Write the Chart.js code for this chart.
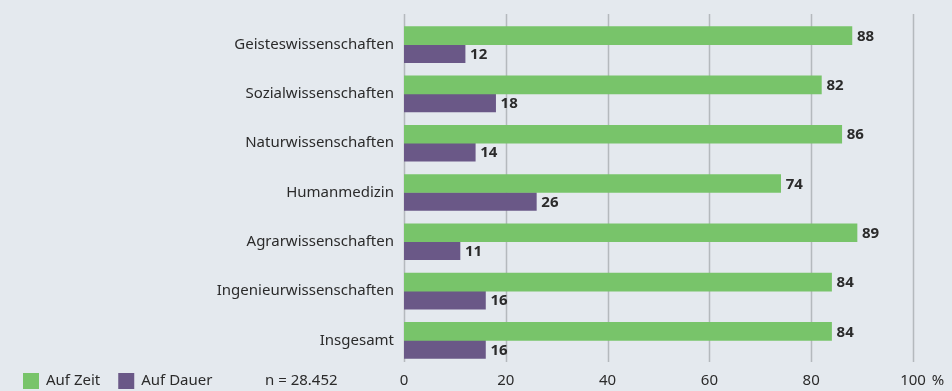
<!DOCTYPE html>
<html lang="de">
<head>
<meta charset="utf-8">
<title>Befristung nach Fächergruppen</title>
<script src="https://cdn.jsdelivr.net/npm/chart.js@4.4.1/dist/chart.umd.min.js"></script>
<style>
  html, body { margin: 0; padding: 0; background: #e4e9ee; }
  #wrap { width: 952px; height: 391px; position: relative; }
</style>
</head>
<body>
<div id="wrap"><canvas id="grafik"></canvas></div>
<script>
const faechergruppen = [
  "Geisteswissenschaften",
  "Sozialwissenschaften",
  "Naturwissenschaften",
  "Humanmedizin",
  "Agrarwissenschaften",
  "Ingenieurwissenschaften",
  "Insgesamt"
];
const aufZeit = [88, 82, 86, 74, 89, 84, 84];
const aufDauer = [12, 18, 14, 26, 11, 16, 16];
const achsenTicks = [0, 20, 40, 60, 80, 100];
const stichprobe = "n = 28.452";

const farbeZeit = "#78c46a";
const farbeDauer = "#6a5887";
const textFarbe = "#2b2b2b";
const schrift = "'Noto Sans', sans-serif";

// Gitterlinien, Werte an den Balken, Legende und Prozentzeichen
const zusatzPlugin = {
  id: "zusatz",
  beforeDatasetsDraw(chart) {
    const ctx = chart.ctx;
    const x = chart.scales.x;
    ctx.save();
    ctx.strokeStyle = "#b4b9bd";
    ctx.lineWidth = 1.5;
    achsenTicks.forEach(t => {
      const px = Math.round(x.getPixelForValue(t)) + 0.5;
      ctx.beginPath();
      ctx.moveTo(px, 14);
      ctx.lineTo(px, 362);
      ctx.stroke();
    });
    ctx.restore();
  },
  afterDatasetsDraw(chart) {
    const ctx = chart.ctx;
    ctx.save();
    ctx.font = "bold 15px " + schrift;
    ctx.fillStyle = textFarbe;
    ctx.textBaseline = "middle";
    ctx.textAlign = "left";
    chart.data.datasets.forEach((ds, i) => {
      chart.getDatasetMeta(i).data.forEach((bar, j) => {
        ctx.fillText(String(ds.data[j]), bar.x + 5, bar.y + 1);
      });
    });

    // Legende unten links
    ctx.font = "15px " + schrift;
    const legY = 381;
    let lx = 23;
    chart.data.datasets.forEach(ds => {
      ctx.fillStyle = ds.backgroundColor;
      ctx.fillRect(lx, legY - 8, 16, 16);
      ctx.fillStyle = textFarbe;
      ctx.fillText(ds.label, lx + 23, legY);
      lx += 23 + ctx.measureText(ds.label).width + 18;
    });
    ctx.fillText(stichprobe, 265, legY);

    // Prozentzeichen hinter der 100
    const x = chart.scales.x;
    const p100 = x.getPixelForValue(100);
    ctx.fillText("%", p100 + ctx.measureText("100").width / 2 + 6, legY);
    ctx.restore();
  }
};

new Chart(document.getElementById("grafik"), {
  type: "bar",
  data: {
    labels: faechergruppen,
    datasets: [
      { label: "Auf Zeit", data: aufZeit, backgroundColor: farbeZeit },
      { label: "Auf Dauer", data: aufDauer, backgroundColor: farbeDauer }
    ]
  },
  options: {
    indexAxis: "y",
    responsive: true,
    maintainAspectRatio: false,
    animation: false,
    barThickness: 18,
    categoryPercentage: 0.81,
    layout: { padding: { top: 20, right: 39, bottom: 0, left: 0 } },
    scales: {
      x: {
        min: 0,
        max: 100,
        afterBuildTicks: scale => { scale.ticks = achsenTicks.map(v => ({ value: v })); },
        afterFit: scale => { scale.height = 26; },
        grid: { display: false, drawTicks: false },
        border: { display: false },
        ticks: {
          padding: 7,
          color: textFarbe,
          font: { family: schrift, size: 15 }
        }
      },
      y: {
        grid: { display: false, drawTicks: false },
        border: { display: false },
        afterFit: scale => { scale.width = 404; },
        ticks: {
          padding: 10,
          color: textFarbe,
          font: { family: schrift, size: 15 }
        }
      }
    },
    plugins: {
      legend: { display: false },
      tooltip: { enabled: false }
    }
  },
  plugins: [zusatzPlugin]
});
</script>
</body>
</html>
